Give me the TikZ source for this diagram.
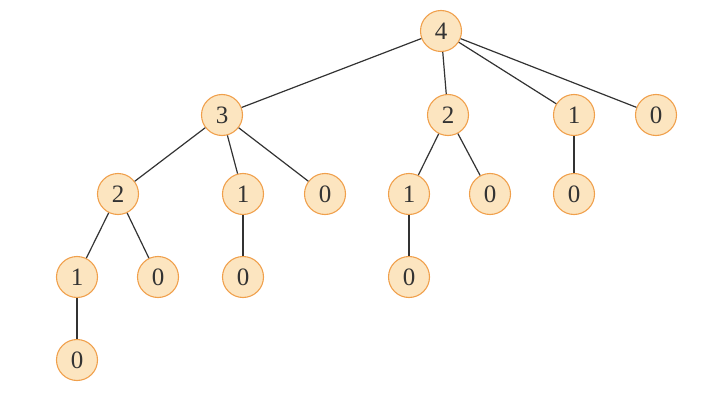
\documentclass[tikz,border=0pt]{standalone}
\usepackage{fontspec}
\setmainfont{Liberation Serif}
\definecolor{nodefill}{HTML}{FCE5C0}
\definecolor{nodeedge}{HTML}{F0A04C}
\definecolor{edgecol}{HTML}{333333}
\begin{document}
\begin{tikzpicture}[x=1pt,y=-1pt,
  tn/.style={circle,draw=nodeedge,fill=nodefill,line width=1.1pt,minimum size=41pt,inner sep=0pt,font=\fontsize{25}{25}\selectfont,text=black!80},
  te/.style={draw=edgecol,line width=1.2pt}]
\useasboundingbox (0,0) rectangle (710,404);
\node[tn] (r) at (441,31) {4};
\node[tn] (a) at (222,115) {3};
\node[tn] (b) at (448,115) {2};
\node[tn] (c) at (574,115) {1};
\node[tn] (d) at (656,115) {0};
\node[tn] (aa) at (118,194) {2};
\node[tn] (ab) at (243,194) {1};
\node[tn] (ac) at (325,194) {0};
\node[tn] (ba) at (409,194) {1};
\node[tn] (bb) at (490,194) {0};
\node[tn] (ca) at (574,194) {0};
\node[tn] (aaa) at (77,277) {1};
\node[tn] (aab) at (158,277) {0};
\node[tn] (aba) at (243,277) {0};
\node[tn] (baa) at (409,277) {0};
\node[tn] (aaaa) at (77,360) {0};
\draw[te] (r) -- (a);
\draw[te] (r) -- (b);
\draw[te] (r) -- (c);
\draw[te] (r) -- (d);
\draw[te] (a) -- (aa);
\draw[te] (a) -- (ab);
\draw[te] (a) -- (ac);
\draw[te] (b) -- (ba);
\draw[te] (b) -- (bb);
\draw[te] (c) -- (ca);
\draw[te] (aa) -- (aaa);
\draw[te] (aa) -- (aab);
\draw[te] (ab) -- (aba);
\draw[te] (ba) -- (baa);
\draw[te] (aaa) -- (aaaa);
\end{tikzpicture}
\end{document}
